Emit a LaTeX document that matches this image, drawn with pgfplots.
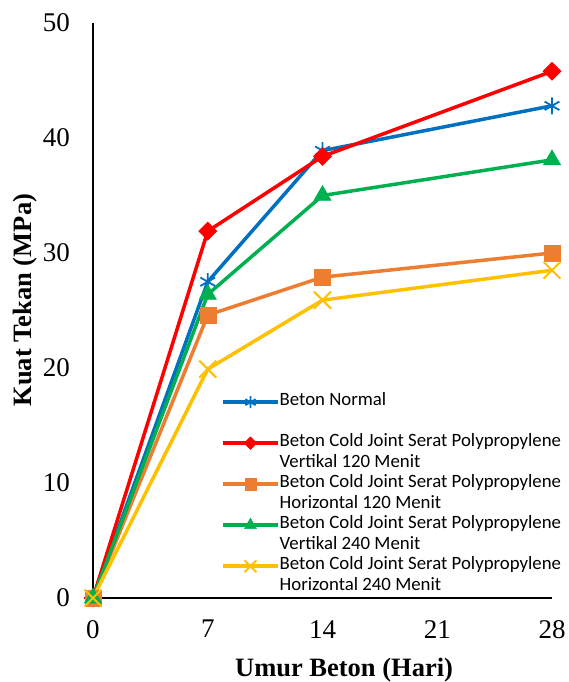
\documentclass[border=0pt]{standalone}
\usepackage{pgfplots}
\pgfplotsset{compat=1.18}
\usepackage{fontspec}
\setmainfont{Liberation Serif}
\newfontfamily\calibri{Carlito}
\definecolor{cblue}{HTML}{0070C0}
\definecolor{cred}{HTML}{FF0000}
\definecolor{corange}{HTML}{ED7D31}
\definecolor{cgreen}{HTML}{00B050}
\definecolor{cyellow}{HTML}{FFC000}
\begin{document}
\begin{tikzpicture}
\path[use as bounding box] (-93pt,-84pt) rectangle (475pt,598pt);
\begin{axis}[
  at={(0pt,0pt)}, anchor=south west,
  scale only axis, width=459pt, height=575pt,
  xmin=0, xmax=28, ymin=0, ymax=50,
  axis x line*=bottom, axis y line*=left,
  axis line style={line width=1.3pt, black},
  xtick={0,7,14,21,28}, ytick={0,10,20,30,40,50},
  major tick length=0pt, tick style={draw=none},
  /pgf/number format/assume math mode=true,
  tick label style={font=\fontsize{27}{30}\selectfont},
  xticklabel style={inner sep=0pt, anchor=north, yshift=-22pt},
  yticklabel style={inner sep=0pt, anchor=east, xshift=-23pt},
  clip=false,
  xlabel={Umur Beton (Hari)}, ylabel={Kuat Tekan (MPa)},
  label style={font=\bfseries\fontsize{26.5}{30}\selectfont},
  xlabel style={at={(axis description cs:0.547,-0.1357)}, anchor=base},
  ylabel style={at={(axis description cs:-0.1350,0.518)}, anchor=base},
  legend style={at={(axis description cs:0.2789,0.3587)}, anchor=north west,
    draw=none, fill=none, inner sep=0pt, row sep=0pt,
    font=\calibri\fontsize{18.8}{20.5}\selectfont,
    nodes={inner sep=0pt, text height=14pt, text depth=6.5pt},
    /tikz/every even column/.append style={column sep=4pt}},
  legend cell align=left,
  legend image code/.code={\draw[mark repeat=2,mark phase=2] plot coordinates {(0pt,0pt) (27.5pt,0pt) (55pt,0pt)};},
  legend image post style={/tikz/every mark/.append style={scale=0.7}},
]
\addplot[color=cblue, line width=3.5pt, mark=asterisk, mark size=8.5pt, mark options={line width=1.8pt, solid}]
  coordinates {(0,0) (7,27.5) (14,38.9) (28,42.8)};
\addlegendentry{Beton Normal}
\addlegendimage{empty legend}
\addlegendentry{}
\addplot[color=cred, line width=3.5pt, mark=square*, mark size=6.4pt, mark options={rotate=45, solid, line width=0.5pt}]
  coordinates {(0,0) (7,31.9) (14,38.4) (28,45.8)};
\addlegendentry{Beton Cold Joint Serat Polypropylene}
\addlegendimage{empty legend}
\addlegendentry{Vertikal 120 Menit}
\addplot[color=corange, line width=3.5pt, mark=square*, mark size=8pt, mark options={solid, line width=0.5pt}]
  coordinates {(0,0) (7,24.6) (14,27.9) (28,30.0)};
\addlegendentry{Beton Cold Joint Serat Polypropylene}
\addlegendimage{empty legend}
\addlegendentry{Horizontal 120 Menit}
\addplot[color=cgreen, line width=3.5pt, mark=triangle*, mark size=10pt, mark options={solid, line width=0.5pt}]
  coordinates {(0,0) (7,26.4) (14,35.0) (28,38.1)};
\addlegendentry{Beton Cold Joint Serat Polypropylene}
\addlegendimage{empty legend}
\addlegendentry{Vertikal 240 Menit}
\addplot[color=cyellow, line width=3.5pt, mark=x, mark size=12pt, mark options={solid, line width=2pt}]
  coordinates {(0,0) (7,19.9) (14,25.9) (28,28.5)};
\addlegendentry{Beton Cold Joint Serat Polypropylene}
\addlegendimage{empty legend}
\addlegendentry{Horizontal 240 Menit}
\end{axis}
\end{tikzpicture}
\end{document}
